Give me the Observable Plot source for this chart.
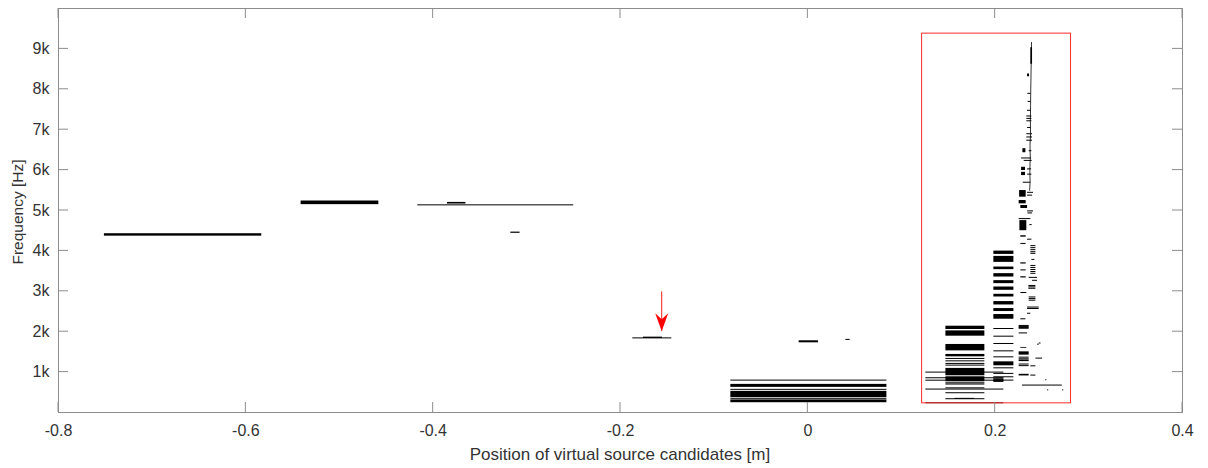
<!DOCTYPE html>
<html>
<head>
<meta charset="utf-8">
<script src="https://cdn.jsdelivr.net/npm/d3@7"></script>
<script src="https://cdn.jsdelivr.net/npm/@observablehq/plot@0.6"></script>
<style>
  html, body { margin: 0; padding: 0; background: #fff; }
</style>
</head>
<body>
<div id="chart"></div>
<script>
// Axis ticks and their labels
const xTicks = [-0.8, -0.6, -0.4, -0.2, 0, 0.2, 0.4];
const xTickLabels = ["-0.8", "-0.6", "-0.4", "-0.2", "0", "0.2", "0.4"];
const yTicks = [1000, 2000, 3000, 4000, 5000, 6000, 7000, 8000, 9000];
const yTickLabels = ["1k", "2k", "3k", "4k", "5k", "6k", "7k", "8k", "9k"];
const xTitle = "Position of virtual source candidates [m]";
const yTitle = "Frequency [Hz]";

// Filled frequency bands: [low Hz, high Hz, start m, end m]
const westBands = [
  [4365, 4425, -0.751, -0.583],
  [5145, 5235, -0.541, -0.458],
  [5160, 5200, -0.3847, -0.365],
  [4435, 4465, -0.3171, -0.3072],
  [1833, 1865, -0.1755, -0.1552],
  [1725, 1775, -0.0093, 0.0114],
  [1785, 1810, 0.0406, 0.0452]
];
// Single frequency lines: [Hz, start m, end m]
const westLines = [
  [5140, -0.4164, -0.2499],
  [1847, -0.1869, -0.1452]
];

const centreBands = [
  [622, 696, -0.0822, 0.0844],
  [365, 523, -0.0822, 0.0844],
  [242, 309, -0.0822, 0.0844]
];
const centreLines = [
  [802, -0.0822, 0.0844],
  [573, -0.0822, 0.0844],
  [341, -0.0822, 0.0844]
];

const nearBands = [
  [2054, 2136, 0.1474, 0.189],
  [1889, 2020, 0.1474, 0.189],
  [1526, 1684, 0.1474, 0.189],
  [1378, 1437, 0.1474, 0.189],
  [909, 1091, 0.1474, 0.189],
  [760, 884, 0.1474, 0.189],
  [326, 350, 0.157, 0.178]
];
const nearLines = [
  [1338, 0.1474, 0.189],
  [1279, 0.1474, 0.189],
  [1215, 0.1474, 0.189],
  [1173, 0.1474, 0.189],
  [735, 0.1474, 0.189],
  [705, 0.1474, 0.189],
  [610, 0.1474, 0.189],
  [489, 0.1474, 0.189],
  [341, 0.1474, 0.189],
  [1000, 0.126, 0.2093],
  [860, 0.126, 0.2093],
  [800, 0.126, 0.2093],
  [580, 0.126, 0.2093],
  [242, 0.126, 0.2093]
];

const midBands = [
  [3913, 3995, 0.1986, 0.22],
  [3716, 3864, 0.1986, 0.22],
  [3536, 3600, 0.1986, 0.22],
  [3353, 3437, 0.1986, 0.22],
  [3190, 3264, 0.1986, 0.22],
  [3025, 3106, 0.1986, 0.22],
  [2859, 2926, 0.1986, 0.22],
  [2662, 2746, 0.1986, 0.22],
  [2499, 2573, 0.1986, 0.22],
  [2309, 2425, 0.1986, 0.22],
  [1156, 1254, 0.1986, 0.22]
];
const midLines = [
  [2079, 0.1986, 0.22],
  [1889, 0.1986, 0.22],
  [1708, 0.1986, 0.22],
  [1526, 0.1986, 0.22],
  [1378, 0.1986, 0.22],
  [1106, 0.1986, 0.22],
  [968, 0.1986, 0.22],
  [884, 0.1986, 0.22],
  [802, 0.1986, 0.22],
  [850, 0.1986, 0.2093],
  [820, 0.1986, 0.2093],
  [790, 0.1986, 0.2093],
  [770, 0.1986, 0.2093]
];

const tailBands = [
  [8620, 9030, 0.2381, 0.2399],
  [8310, 8380, 0.2346, 0.2367],
  [6430, 6530, 0.2296, 0.2328],
  [5990, 6070, 0.2282, 0.2324],
  [5864, 5945, 0.2282, 0.2324],
  [5330, 5494, 0.2261, 0.2331],
  [5165, 5247, 0.2256, 0.2331],
  [5050, 5123, 0.2274, 0.2346],
  [4500, 4750, 0.2264, 0.2338],
  [4340, 4375, 0.2274, 0.2331],
  [3675, 3705, 0.2274, 0.2331],
  [3505, 3530, 0.2274, 0.2331],
  [3330, 3360, 0.2274, 0.2331],
  [2945, 2970, 0.2274, 0.2338],
  [2295, 2320, 0.2274, 0.2328],
  [1590, 1610, 0.2274, 0.2338],
  [1420, 1501, 0.2256, 0.2363],
  [1260, 1300, 0.2256, 0.2363],
  [905, 945, 0.2256, 0.2363]
];
const tailLines = [
  [7900, 0.2349, 0.2381],
  [7700, 0.2352, 0.2381],
  [7480, 0.2346, 0.2381],
  [7340, 0.2338, 0.2392],
  [7280, 0.2338, 0.2392],
  [7220, 0.2338, 0.2392],
  [7056, 0.2346, 0.2381],
  [6900, 0.2338, 0.2399],
  [6820, 0.2338, 0.2399],
  [6740, 0.2338, 0.2399],
  [6480, 0.2363, 0.2392],
  [6300, 0.2282, 0.2389],
  [6240, 0.231, 0.2395],
  [6030, 0.2346, 0.2389],
  [5900, 0.2346, 0.2392],
  [5700, 0.23, 0.238],
  [5450, 0.2346, 0.241],
  [5380, 0.2346, 0.24],
  [4990, 0.2346, 0.241],
  [4940, 0.235, 0.24],
  [4800, 0.2256, 0.2381],
  [4650, 0.237, 0.2395],
  [4290, 0.2346, 0.2392],
  [4185, 0.2274, 0.2331],
  [4130, 0.2381, 0.2435],
  [4080, 0.2381, 0.2435],
  [4030, 0.2381, 0.2435],
  [3980, 0.2381, 0.2435],
  [3940, 0.2381, 0.2435],
  [3790, 0.2392, 0.2424],
  [3640, 0.2381, 0.2435],
  [3590, 0.2381, 0.2435],
  [3540, 0.2381, 0.2435],
  [3490, 0.2381, 0.2435],
  [3445, 0.2381, 0.2435],
  [3345, 0.2363, 0.2453],
  [3272, 0.2399, 0.2453],
  [3145, 0.236, 0.2435],
  [3110, 0.236, 0.2435],
  [3075, 0.236, 0.2435],
  [2860, 0.2363, 0.2435],
  [2820, 0.2363, 0.2435],
  [2780, 0.2363, 0.2435],
  [2610, 0.2346, 0.247],
  [2575, 0.2346, 0.247],
  [2457, 0.2346, 0.2381],
  [2155, 0.2256, 0.2363],
  [2130, 0.2256, 0.2363],
  [2105, 0.2256, 0.2363],
  [2085, 0.2256, 0.2363],
  [1970, 0.2256, 0.2346],
  [1720, 0.247, 0.249],
  [1691, 0.2453, 0.247],
  [1370, 0.2256, 0.2363],
  [1346, 0.2435, 0.2506],
  [1330, 0.2256, 0.2363],
  [1200, 0.2256, 0.2363],
  [1160, 0.2256, 0.2363],
  [1156, 0.2381, 0.2435],
  [926, 0.2381, 0.2435],
  [810, 0.254, 0.2552],
  [679, 0.2292, 0.2717],
  [560, 0.256, 0.2572],
  [560, 0.272, 0.2732]
];

// Ridge of the high-frequency tail: [m, Hz]
const ridge = [
  [0.2388, 9160], [0.2386, 8800], [0.2383, 8400], [0.238, 8000],
  [0.2378, 7600], [0.2376, 7200], [0.2378, 6900], [0.2372, 6600],
  [0.2375, 6300], [0.237, 6000], [0.2373, 5700], [0.2368, 5500]
];

// Highlighted region: [start m, end m, low Hz, high Hz]
const highlight = [[0.122, 0.281, 227, 9378]];
// Marker arrow: [m, from Hz, to Hz]
const marker = [[-0.156, 2985, 2010]];

const axisColor = "#8c8c8c";
const textColor = "#333333";
const fontFamily = "'Liberation Sans', Arial, Helvetica, sans-serif";

// Downward-pointing notched arrowhead with its tip at the anchor point
const arrowHead = {
  draw(context) {
    context.moveTo(0, 0);
    context.lineTo(-6.5, -18);
    context.lineTo(0, -12);
    context.lineTo(6.5, -18);
    context.closePath();
  }
};

// Inward tick marks on all four sides of the box
function insideTicks(index, scales, values, dims) {
  const {width, height, marginLeft, marginRight, marginTop, marginBottom} = dims;
  const left = marginLeft, right = width - marginRight;
  const top = marginTop, bottom = height - marginBottom;
  const len = 10;
  const g = d3.create("svg:g").attr("stroke", axisColor).attr("stroke-width", 1).attr("fill", "none");
  for (const t of xTicks) {
    const px = scales.x(t);
    g.append("line").attr("x1", px).attr("x2", px).attr("y1", bottom).attr("y2", bottom - len);
    g.append("line").attr("x1", px).attr("x2", px).attr("y1", top).attr("y2", top + len);
  }
  for (const t of yTicks) {
    const py = scales.y(t);
    g.append("line").attr("x1", left).attr("x2", left + len).attr("y1", py).attr("y2", py);
    g.append("line").attr("x1", right).attr("x2", right - len).attr("y1", py).attr("y2", py);
  }
  return g.node();
}

// Axis titles centred on the box
function axisTitles(index, scales, values, dims) {
  const {width, height, marginLeft, marginRight, marginTop, marginBottom} = dims;
  const cx = (marginLeft + width - marginRight) / 2;
  const cy = (marginTop + height - marginBottom) / 2;
  const g = d3.create("svg:g").attr("fill", textColor).attr("text-anchor", "middle").attr("font-family", fontFamily);
  g.append("text")
    .attr("x", cx).attr("y", height - marginBottom + 48)
    .attr("font-size", 17)
    .text(xTitle);
  g.append("text")
    .attr("transform", `translate(23, ${cy + 2}) rotate(-90)`)
    .attr("font-size", 15.5)
    .text(yTitle);
  return g.node();
}

const allBands = [...westBands, ...centreBands, ...nearBands, ...midBands, ...tailBands];
const allLines = [...westLines, ...centreLines, ...nearLines, ...midLines, ...tailLines];

const chart = Plot.plot({
  width: 1208,
  height: 468,
  marginLeft: 58,
  marginRight: 26,
  marginTop: 8,
  marginBottom: 56,
  style: {fontFamily, fontSize: "16px", color: textColor, background: "#fff"},
  x: {domain: [-0.8, 0.4]},
  y: {domain: [0, 10000]},
  marks: [
    Plot.rect(allBands, {x1: d => d[2], x2: d => d[3], y1: d => d[0], y2: d => d[1], fill: "black"}),
    Plot.ruleY(allLines, {y: d => d[0], x1: d => d[1], x2: d => d[2], stroke: "black", strokeWidth: 1}),
    Plot.line(ridge, {x: d => d[0], y: d => d[1], stroke: "black", strokeWidth: 0.8}),
    Plot.rect(highlight, {x1: d => d[0], x2: d => d[1], y1: d => d[2], y2: d => d[3], fill: "none", stroke: "#ff2a2a", strokeWidth: 1}),
    Plot.ruleX(marker, {x: d => d[0], y1: d => d[1], y2: d => d[2], stroke: "#ff1a1a", strokeWidth: 1}),
    Plot.dot(marker, {x: d => d[0], y: d => d[2], symbol: arrowHead, fill: "#ff0000", stroke: "none", r: 5}),
    Plot.frame({stroke: axisColor}),
    insideTicks,
    Plot.axisX({ticks: xTicks, tickSize: 0, tickPadding: 12, tickFormat: d => xTickLabels[xTicks.indexOf(d)], label: null, fontSize: 16, fill: textColor}),
    Plot.axisY({ticks: yTicks, tickSize: 0, tickPadding: 9, tickFormat: d => yTickLabels[yTicks.indexOf(d)], label: null, fontSize: 16, fill: textColor}),
    axisTitles
  ]
});

document.getElementById("chart").appendChild(chart);
</script>
</body>
</html>
